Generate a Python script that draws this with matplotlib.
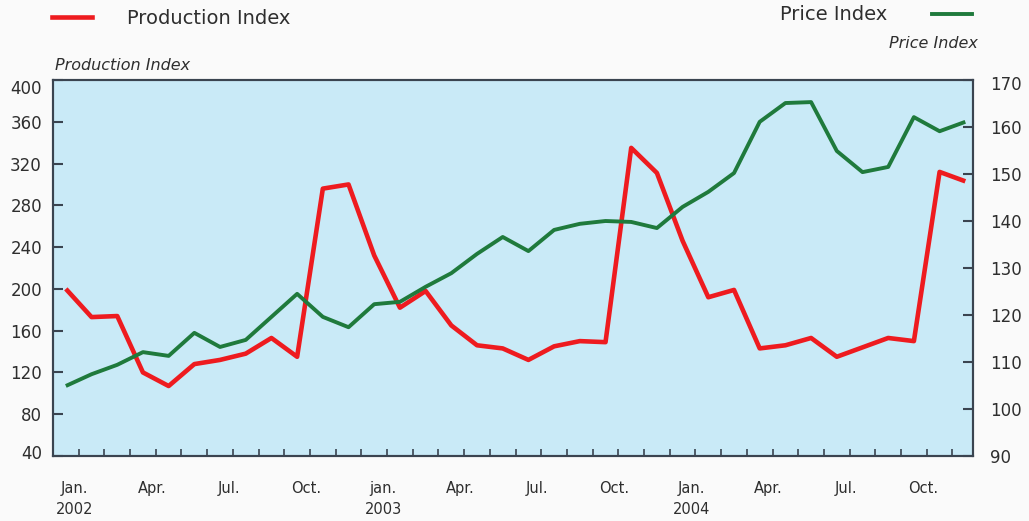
import numpy as np
import matplotlib
matplotlib.use("Agg")
import matplotlib.pyplot as plt
from matplotlib.lines import Line2D
from matplotlib.transforms import ScaledTranslation

# Monthly series, Jan 2002 - Dec 2004
production = [200, 173, 174, 120, 107, 128, 132, 138, 153, 135, 296, 300,
              232, 182, 198, 165, 146, 143, 132, 145, 150, 149, 335, 311,
              246, 192, 199, 143, 146, 153, 135, 144, 153, 150, 312, 303]
price = [104.9, 107.4, 109.4, 112.1, 111.3, 116.2, 113.2, 114.7, 119.6, 124.5, 119.6, 117.4,
         122.3, 122.8, 126.0, 128.9, 133.0, 136.6, 133.6, 138.1, 139.4, 140.0, 139.8, 138.5,
         143.0, 146.2, 150.2, 161.1, 165.1, 165.3, 154.9, 150.4, 151.5, 162.1, 159.1, 161.1]

month_labels = ["Jan.", "Apr.", "Jul.", "Oct.", "jan.", "Apr.", "Jul.", "Oct.",
                "Jan.", "Apr.", "Jul.", "Oct."]
year_labels = ["2002", "", "", "", "2003", "", "", "", "2004", "", "", ""]
left_ticks = list(range(40, 401, 40))
right_ticks = list(range(90, 171, 10))

RED = "#ee1b1f"
GREEN = "#1f7a3c"
AXIS = "#3a4450"
TEXT = "#2e2e2e"

plt.rcParams["font.family"] = ["DejaVu Sans"]

W, H = 1029, 521
fig = plt.figure(figsize=(W / 100, H / 100), dpi=100, facecolor="#fafafa")
ax = fig.add_axes([53 / W, 1 - 456 / H, (973 - 53) / W, (456 - 80) / H])
ax.set_facecolor("#c9eaf7")
ax2 = ax.twinx()

x = np.arange(len(production))
ax.plot(x, production, color=RED, lw=3.3, solid_capstyle="butt", zorder=3)
ax2.plot(x, price, color=GREEN, lw=2.8, solid_capstyle="butt", zorder=3)

ax.set_xlim(-0.5, 35.3)
ax.set_ylim(40, 400)
ax2.set_ylim(90, 170)
ax.set_yticks(left_ticks)
ax2.set_yticks(right_ticks)

for a in (ax, ax2):
    for s in a.spines.values():
        s.set_color(AXIS)
        s.set_linewidth(1.5)

ax.tick_params(axis="y", direction="in", length=7, width=1.5, color=AXIS,
               labelsize=12, labelcolor=TEXT, pad=8)
ax2.tick_params(axis="y", direction="in", length=7, width=1.5, color=AXIS,
                labelsize=12, labelcolor=TEXT, pad=12)


def nudge(label, dy_px):
    label.set_transform(label.get_transform()
                        + ScaledTranslation(0, dy_px / 100, fig.dpi_scale_trans))


# end labels sit slightly inside the frame
ylab_left = ax.get_yticklabels()
nudge(ylab_left[-1], -7)
nudge(ylab_left[0], 4)
ylab_right = ax2.get_yticklabels()
nudge(ylab_right[-1], -3)

# month boundaries carry the small tick marks; quarter labels sit on the months
ax.set_xticks(np.arange(0.5, 35, 1), minor=True)
ax.set_xticks(np.arange(0, 36, 3))
ax.set_xticklabels([m if not y else f"{m}\n{y}" for m, y in zip(month_labels, year_labels)],
                   linespacing=1.5)
ax.tick_params(axis="x", which="minor", direction="in", length=5, width=1.2, color=AXIS)
ax.tick_params(axis="x", which="major", length=0, labelsize=10.5, labelcolor=TEXT, pad=18)
shift = ScaledTranslation(9 / 100, 0, fig.dpi_scale_trans)
for lbl in ax.get_xticklabels():
    lbl.set_transform(lbl.get_transform() + shift)

# legend entries
h_prod = Line2D([], [], color=RED, lw=3.3)
h_price = Line2D([], [], color=GREEN, lw=2.8)
fig.legend(handles=[h_prod], labels=["Production Index"], loc="center left",
           bbox_to_anchor=(52 / W, 1 - 18 / H), frameon=False, fontsize=14,
           handlelength=2.05, handletextpad=1.8, borderpad=0, borderaxespad=0,
           labelcolor=TEXT)
fig.legend(handles=[h_price], labels=["Price Index"], loc="center right",
           bbox_to_anchor=(972 / W, 1 - 15 / H), frameon=False, fontsize=14,
           handlelength=2.05, handletextpad=2.3, borderpad=0, borderaxespad=0,
           markerfirst=False, labelcolor=TEXT)

fig.text(55 / W, 1 - 65 / H, "Production Index", style="italic", fontsize=11.5,
         color=TEXT, ha="left", va="center")
fig.text(978 / W, 1 - 44 / H, "Price Index", style="italic", fontsize=11.5,
         color=TEXT, ha="right", va="center")

fig.savefig("out.png", dpi=100, facecolor=fig.get_facecolor())
